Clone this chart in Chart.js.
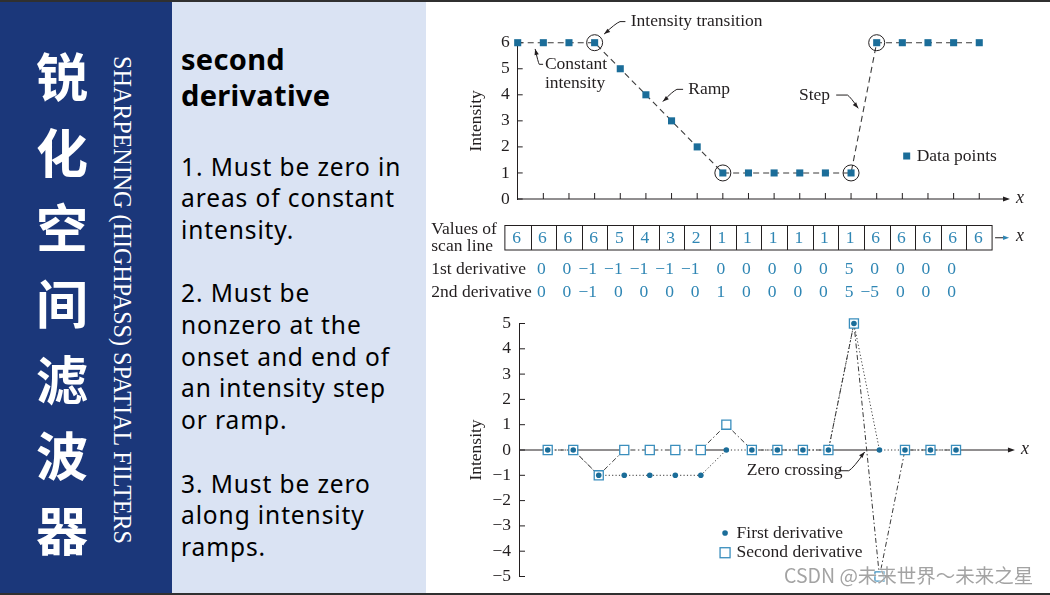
<!DOCTYPE html>
<html>
<head>
<meta charset="utf-8">
<script src="https://cdn.jsdelivr.net/npm/chart.js@4.4.1/dist/chart.umd.min.js"></script>
<style>
  html, body { margin: 0; padding: 0; }
  body { width: 1050px; height: 595px; position: relative; overflow: hidden; background: #fff; }
  .bar { position: absolute; left: 0; width: 1050px; height: 2px; background: #303030; }
  #side { position: absolute; left: 0; top: 2px; width: 172px; height: 591px; background: #1b377a; }
  #notes { position: absolute; left: 172px; top: 2px; width: 254px; height: 591px; background: #dae3f3; }
  #cn-title {
    position: absolute; left: 0; top: 37px; width: 124px; text-align: center;
    font-family: "Noto Sans CJK SC", sans-serif; font-weight: 700; font-size: 52px;
    line-height: 75.7px; color: #fff;
  }
  #en-title {
    position: absolute; left: 107px; top: 56px; writing-mode: vertical-rl;
    font-family: "Liberation Serif", "Times New Roman", serif; font-size: 26px;
    line-height: 30px; color: #fff; white-space: nowrap; transform-origin: top left;
  }
  #heading {
    position: absolute; left: 181px; top: 41px; font-family: "Noto Sans", sans-serif;
    font-weight: 700; font-size: 29px; line-height: 36px; color: #000; white-space: nowrap;
    letter-spacing: 0.3px;
  }
  #body-text {
    position: absolute; left: 181px; top: 150.5px; font-family: "Noto Sans", sans-serif;
    font-size: 24.5px; line-height: 31.7px; color: #000; white-space: nowrap;
    letter-spacing: 0.9px;
  }
  canvas { position: absolute; left: 426px; }
  #top-chart { top: 0; }
  #bottom-chart { top: 305px; }
  #watermark {
    position: absolute; left: 784px; top: 563px; font-family: "Noto Sans CJK SC", sans-serif;
    font-size: 19.5px; line-height: 24px; color: #a3a3a3; white-space: nowrap;
    text-shadow: 0 0 2px #fff, 0 0 1px #fff;
  }
</style>
</head>
<body>
<div id="side"></div>
<div id="notes"></div>
<div class="bar" style="top:0"></div>
<div class="bar" style="top:593px"></div>
<div id="cn-title">锐<br>化<br>空<br>间<br>滤<br>波<br>器</div>
<div id="en-title">SHARPENING (HIGHPASS) SPATIAL FILTERS</div>
<div id="heading">second<br>derivative</div>
<div id="body-text">1. Must be zero in<br>areas of constant<br>intensity.<br><br>2. Must be<br>nonzero at the<br>onset and end of<br>an intensity step<br>or ramp.<br><br>3. Must be zero<br>along intensity<br>ramps.</div>
<canvas id="top-chart" width="624" height="305"></canvas>
<canvas id="bottom-chart" width="624" height="290"></canvas>
<div id="watermark">CSDN @未来世界～未来之星</div>
<script>
const scanLine = [6, 6, 6, 6, 5, 4, 3, 2, 1, 1, 1, 1, 1, 1, 6, 6, 6, 6, 6];
const firstDerivative = [0, 0, -1, -1, -1, -1, -1, 0, 0, 0, 0, 0, 5, 0, 0, 0, 0];
const secondDerivative = [0, 0, -1, 0, 0, 0, 0, 1, 0, 0, 0, 0, 5, -5, 0, 0, 0];
const derivativeStart = 1; // derivatives sit under the 2nd scan-line sample
const transitionPoints = [3, 8, 13, 14];
const topTicks = [0, 1, 2, 3, 4, 5, 6];
const bottomTicks = [-5, -4, -3, -2, -1, 0, 1, 2, 3, 4, 5];

const ink = "#231f20";
const teal = "#1b6d99";
const squareTeal = "#3a8ebd";
const numberTeal = "#2f86b4";
const serif = '"Liberation Serif", "Times New Roman", serif';
const labelFont = `17.5px ${serif}`;

// stretch the rotated english title to the slide's length
const enTitle = document.getElementById("en-title");
enTitle.style.transform = `scaleY(${488 / enTitle.getBoundingClientRect().height})`;

function minusSign(v) {
  return v < 0 ? "\u2212" + Math.abs(v) : String(v);
}

function arrowHead(ctx, x, y, angle, len = 7, half = 2.4) {
  ctx.save();
  ctx.translate(x, y);
  ctx.rotate(angle);
  ctx.beginPath();
  ctx.moveTo(0, 0);
  ctx.lineTo(-len, -half);
  ctx.lineTo(-len, half);
  ctx.closePath();
  ctx.fill();
  ctx.restore();
}

// leader: text end -> elbow -> arrow tip, all in data units
function leader(ctx, x, y, pts) {
  const p = pts.map(([a, b]) => [x.getPixelForValue(a), y.getPixelForValue(b)]);
  ctx.beginPath();
  ctx.moveTo(p[0][0], p[0][1]);
  ctx.lineTo(p[1][0], p[1][1]);
  ctx.quadraticCurveTo(p[1][0] + (p[2][0] - p[1][0]) * 0.3, p[1][1] + (p[2][1] - p[1][1]) * 0.15, p[2][0], p[2][1]);
  ctx.stroke();
  const ang = Math.atan2(p[2][1] - p[1][1], p[2][0] - p[1][0]);
  arrowHead(ctx, p[2][0], p[2][1], ang, 6, 2.2);
}

function text(ctx, str, px, py, align = "left", color = ink, font = labelFont) {
  ctx.font = font;
  ctx.fillStyle = color;
  ctx.textAlign = align;
  ctx.textBaseline = "middle";
  ctx.fillText(str, px, py);
}

function derivativeRow(ctx, x, values, py) {
  ctx.font = labelFont;
  values.forEach((v, i) => {
    const px = x.getPixelForValue(i + derivativeStart) - 2;
    const digits = String(Math.abs(v));
    text(ctx, digits, px, py, "center", numberTeal);
    if (v < 0) {
      const w = ctx.measureText(digits).width;
      text(ctx, "\u2212", px - w / 2, py, "right", numberTeal);
    }
  });
}

const topDecor = {
  id: "topDecor",
  beforeDatasetsDraw(chart) {
    const { ctx, chartArea, scales: { x, y } } = chart;
    const y0 = y.getPixelForValue(0);
    ctx.save();
    ctx.strokeStyle = ink;
    ctx.fillStyle = ink;
    ctx.lineWidth = 1;
    const end = x.getPixelForValue(19.2);
    ctx.beginPath();
    ctx.moveTo(chartArea.left, y0);
    ctx.lineTo(end - 4, y0);
    scanLine.forEach((_, i) => {
      if (i === 0) return;
      const px = x.getPixelForValue(i);
      ctx.moveTo(px, y0);
      ctx.lineTo(px, y0 - 6);
    });
    topTicks.forEach((v) => {
      const py = y.getPixelForValue(v);
      ctx.moveTo(chartArea.left, py);
      ctx.lineTo(chartArea.left + 5, py);
    });
    ctx.stroke();
    arrowHead(ctx, end, y0, 0);
    text(ctx, "x", end + 6, y0 - 1, "left", ink, `italic 18px ${serif}`);
    ctx.restore();
  },
  afterDatasetsDraw(chart) {
    const { ctx, scales: { x, y } } = chart;
    const y0 = y.getPixelForValue(0);
    ctx.save();
    ctx.strokeStyle = ink;
    ctx.fillStyle = ink;
    ctx.lineWidth = 1;

    transitionPoints.forEach((i) => {
      ctx.beginPath();
      ctx.arc(x.getPixelForValue(i), y.getPixelForValue(scanLine[i]), 8, 0, Math.PI * 2);
      ctx.stroke();
    });

    text(ctx, "Intensity transition", x.getPixelForValue(4.41), y.getPixelForValue(6.81));
    leader(ctx, x, y, [[4.2, 6.81], [3.99, 6.81], [3.37, 6.33]]);
    text(ctx, "Constant", x.getPixelForValue(1.06), y.getPixelForValue(5.17));
    text(ctx, "intensity", x.getPixelForValue(1.06), y.getPixelForValue(4.45));
    leader(ctx, x, y, [[0.99, 5.17], [0.84, 5.17], [0.68, 5.76]]);
    text(ctx, "Ramp", x.getPixelForValue(6.65), y.getPixelForValue(4.21));
    leader(ctx, x, y, [[6.45, 4.21], [6.21, 4.21], [5.66, 3.74]]);
    text(ctx, "Step", x.getPixelForValue(12.18), y.getPixelForValue(3.99), "right");
    leader(ctx, x, y, [[12.42, 3.99], [12.86, 3.99], [13.28, 3.48]]);

    ctx.fillStyle = teal;
    ctx.fillRect(x.getPixelForValue(15.17) - 3.5, y.getPixelForValue(1.65) - 3.5, 7, 7);
    text(ctx, "Data points", x.getPixelForValue(15.56), y.getPixelForValue(1.65));

    // scan line table
    const boxTop = y0 + 26.5;
    const boxBottom = y0 + 51;
    const left = x.getPixelForValue(-0.5);
    const right = x.getPixelForValue(scanLine.length - 0.5);
    ctx.strokeStyle = ink;
    ctx.strokeRect(left, boxTop, right - left, boxBottom - boxTop);
    ctx.beginPath();
    scanLine.forEach((v, i) => {
      if (i > 0) {
        const bx = Math.round(x.getPixelForValue(i - 0.5)) + 0.5;
        ctx.moveTo(bx, boxTop);
        ctx.lineTo(bx, boxBottom);
      }
    });
    ctx.stroke();
    scanLine.forEach((v, i) => {
      text(ctx, String(v), x.getPixelForValue(i) - 1, (boxTop + boxBottom) / 2 + 0.5, "center", numberTeal);
    });
    ctx.beginPath();
    ctx.moveTo(right + 3, (boxTop + boxBottom) / 2);
    ctx.lineTo(right + 12, (boxTop + boxBottom) / 2);
    ctx.stroke();
    arrowHead(ctx, right + 17, (boxTop + boxBottom) / 2, 0, 6, 2.2);
    text(ctx, "x", right + 24, (boxTop + boxBottom) / 2 - 1, "left", ink, `italic 18px ${serif}`);

    text(ctx, "Values of", 5.3, boxTop + 3.5);
    text(ctx, "scan line", 5.3, boxTop + 20.5);
    text(ctx, "1st derivative", 5.3, y0 + 70.3);
    text(ctx, "2nd derivative", 5.3, y0 + 93.3);
    derivativeRow(ctx, x, firstDerivative, y0 + 70.3);
    derivativeRow(ctx, x, secondDerivative, y0 + 93.3);
    ctx.restore();
  },
};

// pieces of the zero axis where a derivative runs flat along it are left to the series
function flatZeroSpans() {
  const spans = [];
  for (let i = 0; i < firstDerivative.length - 1; i += 1) {
    const flatFirst = firstDerivative[i] === 0 && firstDerivative[i + 1] === 0;
    const flatSecond = secondDerivative[i] === 0 && secondDerivative[i + 1] === 0;
    if (flatFirst || flatSecond) {
      spans.push([i + derivativeStart, i + 1 + derivativeStart]);
    }
  }
  return spans;
}

const bottomDecor = {
  id: "bottomDecor",
  beforeDatasetsDraw(chart) {
    const { ctx, chartArea, scales: { x, y } } = chart;
    const y0 = y.getPixelForValue(0);
    ctx.save();
    ctx.strokeStyle = ink;
    ctx.fillStyle = ink;
    ctx.lineWidth = 1;
    const end = x.getPixelForValue(19.31);
    let from = chartArea.left;
    ctx.beginPath();
    flatZeroSpans().forEach(([a, b]) => {
      const pa = x.getPixelForValue(a);
      if (pa > from) {
        ctx.moveTo(from, y0);
        ctx.lineTo(pa, y0);
      }
      from = Math.max(from, x.getPixelForValue(b));
    });
    ctx.moveTo(from, y0);
    ctx.lineTo(end - 4, y0);
    bottomTicks.forEach((v) => {
      const py = y.getPixelForValue(v);
      ctx.moveTo(chartArea.left, py);
      ctx.lineTo(chartArea.left + 6, py);
    });
    ctx.stroke();
    arrowHead(ctx, end, y0, 0);
    text(ctx, "x", end + 6, y0 - 1, "left", ink, `italic 18px ${serif}`);
    ctx.restore();
  },
  afterDatasetsDraw(chart) {
    const { ctx, scales: { x, y } } = chart;
    ctx.save();
    ctx.strokeStyle = ink;
    ctx.fillStyle = ink;
    ctx.lineWidth = 1;

    // zero crossing of the second derivative between the +5 / -5 pair
    const k = secondDerivative.findIndex((v, i) => v > 0 && secondDerivative[i + 1] < 0);
    const crossX = k + derivativeStart + secondDerivative[k] / (secondDerivative[k] - secondDerivative[k + 1]);
    text(ctx, "Zero crossing", x.getPixelForValue(8.8), y.getPixelForValue(-0.82));
    leader(ctx, x, y, [[12.38, -0.82], [12.8, -0.82], [crossX - 0.08, -0.08]]);

    ctx.fillStyle = teal;
    ctx.beginPath();
    ctx.arc(x.getPixelForValue(7.95), y.getPixelForValue(-3.28), 2.8, 0, Math.PI * 2);
    ctx.fill();
    ctx.strokeStyle = squareTeal;
    ctx.lineWidth = 1.3;
    ctx.strokeRect(x.getPixelForValue(7.95) - 5, y.getPixelForValue(-4.06) - 5, 10, 10);
    text(ctx, "First derivative", x.getPixelForValue(8.4), y.getPixelForValue(-3.28));
    text(ctx, "Second derivative", x.getPixelForValue(8.4), y.getPixelForValue(-4.06));
    ctx.restore();
  },
};

function yAxis(min, max, width) {
  return {
    type: "linear",
    min,
    max,
    afterFit: (scale) => {
      scale.width = width;
    },
    afterBuildTicks: (scale) => {
      scale.ticks = (min === 0 ? topTicks : bottomTicks).map((v) => ({ value: v }));
    },
    grid: { display: false, drawTicks: false },
    border: { display: true, color: ink, width: 1 },
    ticks: {
      color: ink,
      padding: 8,
      font: { family: serif, size: 17.5 },
      callback: (v) => minusSign(v),
    },
    title: {
      display: true,
      text: "Intensity",
      color: ink,
      font: { family: serif, size: 17.5 },
      padding: { top: 39.5, bottom: 0 },
    },
  };
}

const baseOptions = {
  responsive: false,
  animation: false,
  events: [],
  plugins: { legend: { display: false }, tooltip: { enabled: false } },
};

new Chart(document.getElementById("top-chart"), {
  type: "line",
  data: {
    datasets: [
      {
        data: scanLine.map((v, i) => ({ x: i, y: v })),
        borderColor: "#3a3a3a",
        borderWidth: 1.1,
        borderDash: [6, 4],
        pointStyle: "rect",
        pointRadius: 5,
        pointBorderWidth: 0,
        pointBackgroundColor: teal,
        clip: false,
      },
    ],
  },
  options: {
    ...baseOptions,
    layout: { padding: { left: 0, right: 45.1, top: 42.7, bottom: 106 } },
    scales: {
      x: { type: "linear", min: 0, max: 19, display: false },
      y: yAxis(0, 6, 91.7),
    },
  },
  plugins: [topDecor],
});

const firstPoints = firstDerivative.map((v, i) => ({ x: i + derivativeStart, y: v }));
const secondPoints = secondDerivative.map((v, i) => ({ x: i + derivativeStart, y: v }));

new Chart(document.getElementById("bottom-chart"), {
  type: "line",
  data: {
    datasets: [
      {
        label: "First derivative",
        data: firstPoints,
        showLine: false,
        pointStyle: "circle",
        pointRadius: 2.8,
        pointBorderWidth: 0,
        pointBackgroundColor: teal,
        clip: false,
      },
      {
        label: "Second derivative",
        data: secondPoints,
        showLine: false,
        pointStyle: "rect",
        pointRadius: 6.4,
        pointBorderWidth: 1.3,
        pointBorderColor: squareTeal,
        pointBackgroundColor: "#fff",
        clip: false,
      },
      {
        data: firstPoints,
        borderColor: "#3a3a3a",
        borderWidth: 1,
        borderDash: [1.2, 2.2],
        pointRadius: 0,
        clip: false,
      },
      {
        data: secondPoints,
        borderColor: "#3a3a3a",
        borderWidth: 1,
        borderDash: [5, 2.5, 1.5, 2.5],
        pointRadius: 0,
        clip: false,
      },
    ],
  },
  options: {
    ...baseOptions,
    layout: { padding: { left: 0, right: 40.4, top: 18, bottom: 16 } },
    scales: {
      x: { type: "linear", min: -0.125, max: 19.1, display: false },
      y: yAxis(-5, 5, 93),
    },
  },
  plugins: [bottomDecor],
});
</script>
</body>
</html>
